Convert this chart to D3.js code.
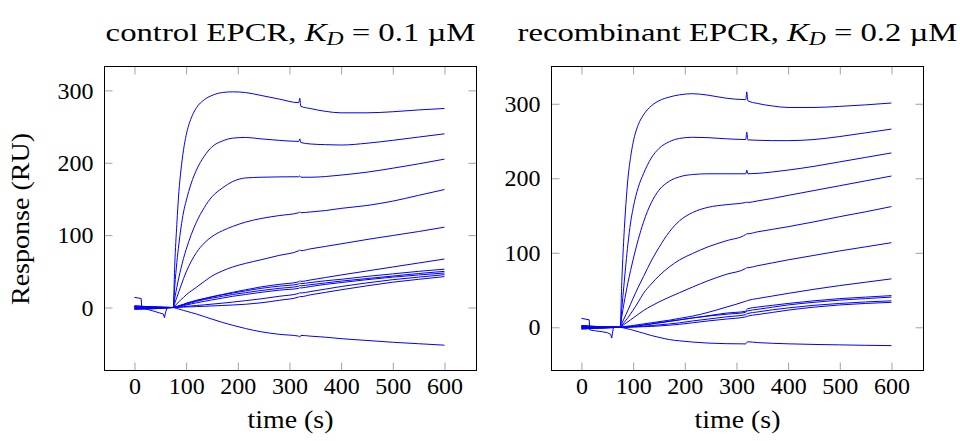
<!DOCTYPE html>
<html>
<head>
<meta charset="utf-8">
<script src="https://cdn.jsdelivr.net/npm/d3@7"></script>
<style>
  body { margin: 0; background: #fff; }
  svg text { font-family: "Liberation Serif", "Times New Roman", serif; fill: #000; }
</style>
</head>
<body>
<svg id="chart" width="960" height="441"></svg>
<script>
// sample times (s) shared by every sensorgram
const times = [0, 75, 78, 82, 86, 90, 95, 100, 110, 120, 135, 150, 170, 190, 215, 245, 280, 318, 320, 322, 340, 370, 400, 450, 500, 550, 600]

// response (RU), one row per injected concentration
const controlCurves = [
  [1.5, 0, 60, 115, 160, 190, 218, 238, 262, 276, 287, 293, 297, 298, 297, 293, 288, 283, 289, 278, 275, 271, 269, 269, 270.5, 273, 275],
  [-1, 0, 30, 62, 88, 110, 132, 147, 172, 190, 209, 222, 230, 234, 235, 233, 231, 229.5, 233, 228, 226, 225, 224.5, 227, 231, 235.5, 240],
  [2.5, 0, 13, 28, 42, 54, 68, 80, 101, 118, 138, 153, 165, 174, 179, 180, 180.5, 180.7, 182, 180, 180, 181, 183, 187, 192.5, 198.5, 205],
  [-2, 0, 6, 14, 22, 30, 40, 49, 64, 76, 89, 98, 106, 112, 118, 123, 127, 131, 132, 131, 132, 134, 137, 141, 147, 155, 163],
  [0.5, 0, 2, 5, 8, 11, 14, 17.5, 23, 28, 36, 43.5, 50.5, 56, 61, 66, 72, 78.5, 79.5, 78.5, 81, 84.5, 88, 94, 99.5, 105, 111],
  [-0.5, 0, 0.5, 1.5, 2.5, 3.5, 4.5, 6, 8, 10, 12.5, 15, 18, 21, 24.5, 28.5, 32, 35.5, 37, 36, 38, 41.5, 45, 50.5, 56, 61.5, 67],
  [2, 0, 0.5, 1.3, 2.2, 3, 4, 5.5, 7.5, 9.5, 12, 14.5, 17.5, 20, 23, 26.5, 29.5, 32.5, 34, 33, 34.5, 37, 39, 43, 46.5, 50, 53],
  [-2.5, 0, 0.4, 1, 1.8, 2.5, 3.5, 4.5, 6.5, 8.5, 11, 13, 15.5, 18, 20.5, 23.5, 26.5, 29.5, 30.5, 30, 31.5, 34, 36.5, 40, 43.5, 47, 50],
  [1, 0, 0.3, 0.8, 1.4, 2, 2.7, 3.5, 5, 6.5, 8.5, 10.5, 13, 15.5, 18, 21, 24, 26.5, 27.5, 27, 29, 32, 34.5, 38.5, 42, 45, 47.7],
  [-1.5, 0, 0, 0.3, 0.6, 1, 1.3, 1.6, 2.2, 2.8, 3.7, 4.7, 6, 7.5, 9.5, 12, 15.5, 19.5, 20.5, 20, 22, 25.5, 29, 34, 38.5, 42, 45.4],
  [0, 0, 0, 0.2, 0.3, 0.5, 0.6, 0.8, 1, 1.3, 1.7, 2.2, 2.8, 3.5, 4.5, 6.5, 10, 14.5, 15.5, 15, 17.5, 21, 24.5, 30, 35, 39, 42.7],
  [0.8, 0, -0.5, -1.3, -2, -3, -4, -5, -7, -9, -12.5, -16, -20.5, -24.5, -29, -33.5, -37, -39.5, -41, -38.5, -39.5, -41, -43, -45.5, -48, -50, -52]
]

const recombinantCurves = [
  [1, 0, 60, 120, 165, 200, 228, 248, 272, 285, 297, 304, 309, 312, 313.5, 311.5, 307.5, 305.5, 316, 304, 300.5, 297, 295, 295, 296.5, 298.5, 301],
  [-1.5, 0, 25, 55, 85, 112, 140, 160, 188, 206, 227, 240, 249, 253.5, 255, 254.5, 253, 252, 262, 251.5, 251, 250.5, 250.5, 252, 256, 261, 266],
  [2, 0, 14, 31, 46, 60, 76, 91, 118, 141, 167, 184, 196, 202, 205, 206, 206, 206, 211, 206, 206.5, 208.5, 211, 216, 222, 228, 234],
  [-2, 0, 5, 11, 17, 23, 31, 39, 54, 68, 89, 107, 128, 143, 154, 161, 164.5, 167.5, 168, 167.5, 169.5, 173, 177, 183.5, 190, 196.5, 203],
  [0.5, 0, 2.5, 6, 9.5, 13, 18, 23, 34, 45.5, 58, 69, 81, 90.5, 99, 108, 116, 124.5, 125.5, 125.5, 128, 131.5, 135, 141.5, 148.5, 155, 162],
  [-0.5, 0, 1.5, 3.5, 5.5, 7.5, 10, 12.5, 17.5, 22.5, 28.5, 34, 40.5, 46.5, 54, 62.5, 71, 79, 80, 80, 82.5, 86.5, 90.5, 96.5, 102.5, 108, 113.5],
  [1.5, 0, 0.3, 0.8, 1.2, 1.6, 2, 2.5, 3.5, 4.5, 6, 7.5, 9.5, 12, 15, 20, 27, 35, 35.5, 36, 38.5, 42, 45.5, 51, 56, 60.5, 65],
  [-1, 0, 0, 0.2, 0.4, 0.6, 0.9, 1.2, 2, 3, 4.5, 6, 8, 10, 12.5, 15.5, 19, 21.5, 24, 25, 27, 29.5, 32, 35.5, 38.5, 40.5, 42.5],
  [2.5, 0, 0, 0.2, 0.4, 0.6, 0.9, 1.2, 2, 3, 4.5, 6, 8, 10, 12.5, 15, 17.5, 20, 21.5, 22, 24, 27, 30, 33.5, 36.5, 38.5, 40.5],
  [-2.5, 0, 0, 0.1, 0.2, 0.3, 0.4, 0.6, 1, 1.5, 2.3, 3.2, 4.5, 6, 8.5, 11, 14, 17, 18, 18.5, 20.5, 23.5, 26, 29.5, 32, 34, 35.5],
  [0, 0, 0, 0, 0.1, 0.1, 0.2, 0.3, 0.5, 0.8, 1.2, 1.8, 2.8, 4, 6, 8.5, 11, 14, 14.5, 15, 17, 20, 23, 27, 30, 32, 33.5],
  [0.8, 0, -0.3, -1, -1.5, -2.2, -3, -4, -6, -8, -11, -13.5, -16.5, -18.2, -19.8, -21.2, -22, -22.3, -20, -19.5, -20.5, -21.5, -22.2, -23, -23.6, -24.2, -24.6]
]

// baseline glitches before injection, [time, response]
const controlNoise = [
  [[0, 14], [13, 12.5], [14, 0.5], [20, 0]],
  [[16, -1], [25, -2.5], [37, -5], [48, -7.3], [56, -9], [58, -14], [60, -7.5], [62.5, -1], [66, 0]]
]
const recombinantNoise = [
  [[0, 12], [15, 10], [16, -3.5], [25, -4.5], [40, -6], [50, -7.2], [56.5, -9.4], [58.5, -14.5], [60, -8], [62, 0.5], [66, 0]]
]

const xTicks = [0, 100, 200, 300, 400, 500, 600]
const yTicks = [0, 100, 200, 300]

const panels = [
  { name: 'control', kd: '0.1', curves: controlCurves, noise: controlNoise, left: 104.5, yDomain: [-87, 333], titleWidth: 370 },
  { name: 'recombinant', kd: '0.2', curves: recombinantCurves, noise: recombinantNoise, left: 551.5, yDomain: [-58, 350], titleWidth: 440 }
]

const plotW = 372
const plotTop = 66.5
const plotBottom = 370.5

const svg = d3.select('#chart')

function fitWidth(sel, w) {
  const bb = sel.node().getBBox()
  const cx = bb.x + bb.width / 2
  sel.attr('transform', 'translate(' + cx + ',0) scale(' + (w / bb.width) + ',1) translate(' + (-cx) + ',0)')
}

panels.forEach((p, i) => {
  const x = d3.scaleLinear().domain([-58, 662]).range([p.left, p.left + plotW])
  const y = d3.scaleLinear().domain(p.yDomain).range([plotBottom, plotTop])

  const g = svg.append('g')

  const line = d3.line()
    .x(d => x(d[0]))
    .y(d => y(d[1]))
    .curve(d3.curveMonotoneX)

  g.selectAll('.curve')
    .data(p.curves)
    .enter()
    .append('path')
    .attr('class', 'curve')
    .attr('d', vals => line(vals.map((v, j) => [times[j], v])))
    .attr('fill', 'none')
    .attr('stroke', '#0000ff')
    .attr('stroke-width', 1)

  g.selectAll('.noise')
    .data(p.noise)
    .enter()
    .append('path')
    .attr('class', 'noise')
    .attr('d', d3.line().x(d => x(d[0])).y(d => y(d[1])))
    .attr('fill', 'none')
    .attr('stroke', '#0000ff')
    .attr('stroke-width', 1)

  // axes, ticks pointing inwards on all four sides
  const axes = [
    { ax: d3.axisBottom(x).tickValues(xTicks).tickSize(-8).tickPadding(6), t: 'translate(0,' + plotBottom + ')' },
    { ax: d3.axisTop(x).tickValues(xTicks).tickSize(-8).tickFormat(''), t: 'translate(0,' + plotTop + ')' },
    { ax: d3.axisLeft(y).tickValues(yTicks).tickSize(-8).tickPadding(11), t: 'translate(' + p.left + ',0)' },
    { ax: d3.axisRight(y).tickValues(yTicks).tickSize(-8).tickFormat(''), t: 'translate(' + (p.left + plotW) + ',0)' }
  ]
  axes.forEach(a => {
    const ag = g.append('g').attr('transform', a.t).call(a.ax)
    ag.select('.domain').remove()
    ag.selectAll('.tick line').attr('stroke', '#8a8a8a').attr('stroke-width', 0.8)
    ag.selectAll('.tick text')
      .attr('font-size', 24)
      .attr('font-family', '"Liberation Serif", serif')
      .attr('fill', '#000')
  })

  g.append('rect')
    .attr('x', p.left)
    .attr('y', plotTop)
    .attr('width', plotW)
    .attr('height', plotBottom - plotTop)
    .attr('fill', 'none')
    .attr('stroke', '#000')
    .attr('stroke-width', 1)

  const cx = p.left + plotW / 2

  const title = g.append('text')
    .attr('x', cx)
    .attr('y', 41)
    .attr('text-anchor', 'middle')
    .attr('font-size', 25)
  title.append('tspan').text(p.name + ' EPCR, ')
  title.append('tspan').attr('font-style', 'italic').text('K')
  title.append('tspan').attr('font-style', 'italic').attr('font-size', 18).attr('dy', 4).text('D')
  title.append('tspan').attr('dy', -4).text(' = ' + p.kd + ' µM')
  fitWidth(title, p.titleWidth)

  const xl = g.append('text')
    .attr('x', cx)
    .attr('y', 428)
    .attr('text-anchor', 'middle')
    .attr('font-size', 25)
    .text('time (s)')
  fitWidth(xl, 86)

  if (i === 0) {
    svg.append('text')
      .attr('transform', 'translate(29,219) rotate(-90)')
      .attr('text-anchor', 'middle')
      .attr('font-size', 25)
      .attr('textLength', 172)
      .attr('lengthAdjust', 'spacingAndGlyphs')
      .text('Response (RU)')
  }
})
</script>
</body>
</html>
